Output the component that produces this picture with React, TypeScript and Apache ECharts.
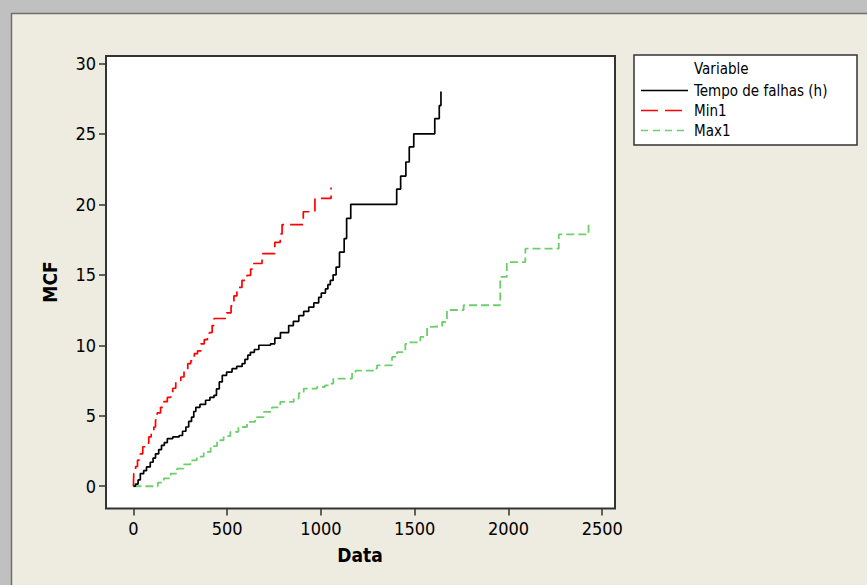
import React, { useEffect, useRef } from "react";
import * as echarts from "echarts";

// Mean cumulative function (MCF) step curves
const tempoX = [0, 11, 25, 37, 55, 70, 90, 105, 118, 135, 150, 165, 181, 210, 244, 262, 280, 295, 310, 322, 333, 355, 385, 408, 430, 443, 458, 474, 497, 526, 551, 580, 595, 610, 624, 645, 669, 731, 754, 784, 828, 853, 882, 908, 935, 962, 988, 1002, 1024, 1037, 1050, 1065, 1081, 1099, 1124, 1137, 1159, 1404, 1425, 1453, 1471, 1495, 1607, 1631, 1640];
const tempoY = [0, 0.15, 0.45, 0.9, 1.1, 1.37, 1.7, 2.0, 2.3, 2.6, 2.9, 3.1, 3.38, 3.5, 3.6, 3.9, 4.2, 4.6, 4.9, 5.3, 5.6, 5.8, 6.1, 6.3, 6.45, 6.9, 7.4, 7.87, 8.1, 8.34, 8.5, 8.7, 9.0, 9.3, 9.5, 9.7, 10.0, 10.1, 10.5, 10.9, 11.4, 11.7, 12.1, 12.4, 12.7, 13.0, 13.4, 13.7, 14.0, 14.3, 14.6, 15.0, 15.55, 16.6, 17.57, 19.0, 20.0, 21.08, 22.0, 23.0, 24.07, 25.0, 26.08, 27.0, 28.0];

const min1X = [0, 2, 12, 22, 37, 50, 64, 82, 95, 109, 118, 127, 145, 162, 181, 199, 210, 226, 253, 270, 290, 306, 325, 342, 360, 378, 395, 405, 420, 430, 497, 521, 536, 552, 579, 606, 625, 642, 686, 754, 783, 793, 906, 968, 1054];
const min1Y = [0, 0.9, 1.4, 1.85, 2.3, 2.8, 3.05, 3.5, 3.75, 4.2, 4.7, 5.2, 5.6, 6.0, 6.3, 6.6, 6.95, 7.5, 7.75, 8.2, 8.7, 8.9, 9.4, 9.6, 10.1, 10.4, 10.6, 10.9, 11.4, 11.9, 12.3, 12.8, 13.5, 14.1, 14.6, 14.96, 15.4, 15.8, 16.5, 17.3, 17.9, 18.56, 19.47, 20.42, 21.2];

const max1X = [0, 109, 130, 162, 199, 233, 268, 304, 338, 375, 412, 446, 481, 517, 560, 606, 649, 695, 739, 783, 855, 882, 908, 979, 1021, 1050, 1066, 1166, 1184, 1279, 1299, 1379, 1406, 1450, 1467, 1530, 1566, 1592, 1646, 1672, 1761, 1956, 1991, 2090, 2268, 2427];
const max1Y = [0, 0, 0.25, 0.55, 0.9, 1.25, 1.55, 1.84, 2.1, 2.43, 2.85, 3.26, 3.55, 3.85, 4.2, 4.56, 4.9, 5.27, 5.6, 5.98, 6.22, 6.6, 6.93, 7.04, 7.15, 7.28, 7.64, 8.1, 8.2, 8.35, 8.58, 9.17, 9.52, 10.1, 10.2, 10.6, 11.3, 11.35, 11.65, 12.5, 12.84, 14.85, 15.9, 16.85, 17.86, 18.6];

const xTicks = [0, 500, 1000, 1500, 2000, 2500];
const yTicks = [0, 5, 10, 15, 20, 25, 30];
const seriesNames = ["Tempo de falhas (h)", "Min1", "Max1"];
const legendTitle = "Variable";
const xTitle = "Data";
const yTitle = "MCF";

const FONT = '"DejaVu Sans Condensed", "DejaVu Sans", sans-serif';
const zip = (xs: number[], ys: number[]) => xs.map((x, i) => [x, ys[i]]);

const colors = ["#000000", "#ff0000", "#6ccf6c"];
const dashes: (string | number[])[] = ["solid", [13, 6], [8, 4]];

function buildOption(): echarts.EChartsOption {
  const data = [zip(tempoX, tempoY), zip(min1X, min1Y), zip(max1X, max1Y)];
  const legendRows = [90.5, 110.5, 130.5];
  const legendDash: (number[] | null)[] = [null, [17, 7], [7, 5]];
  const legendEls: any[] = [
    {
      type: "rect",
      shape: { x: 634, y: 55, width: 223, height: 90 },
      style: { fill: "#ffffff", stroke: "#333333", lineWidth: 1.5 },
    },
    {
      type: "text",
      x: 694,
      y: 69,
      style: { text: legendTitle, font: `15px ${FONT}`, fill: "#000", align: "left", verticalAlign: "middle", textAlign: "left", textVerticalAlign: "middle" },
    },
  ];
  seriesNames.forEach((name, i) => {
    legendEls.push({
      type: "line",
      shape: { x1: 641, y1: legendRows[i], x2: 688, y2: legendRows[i] },
      style: { stroke: colors[i], lineWidth: 1.7, lineDash: legendDash[i] || undefined },
    });
    legendEls.push({
      type: "text",
      x: 694,
      y: legendRows[i],
      style: { text: name, font: `15px ${FONT}`, fill: "#000", align: "left", verticalAlign: "middle", textAlign: "left", textVerticalAlign: "middle" },
    });
  });

  const tickLabel = (v: number) => String(v);

  return {
    animation: false,
    backgroundColor: "#eeebe0",
    grid: {
      left: 106,
      top: 56,
      width: 509,
      height: 452.5,
      show: true,
      backgroundColor: "#ffffff",
      borderColor: "#333333",
      borderWidth: 2,
    },
    xAxis: {
      type: "value",
      min: -146,
      max: 2568,
      splitLine: { show: false },
      axisLine: { show: false, onZero: false },
      axisTick: { show: true, length: 7, lineStyle: { color: "#333", width: 1.5 }, customValues: xTicks } as any,
      axisLabel: { customValues: xTicks, formatter: tickLabel, margin: 11, fontFamily: FONT, fontSize: 18, color: "#000" } as any,
    },
    yAxis: {
      type: "value",
      min: -1.58,
      max: 30.52,
      splitLine: { show: false },
      axisLine: { show: false, onZero: false },
      axisTick: { show: true, length: 7, lineStyle: { color: "#333", width: 1.5 }, customValues: yTicks } as any,
      axisLabel: { customValues: yTicks, formatter: tickLabel, margin: 10, fontFamily: FONT, fontSize: 18, color: "#000" } as any,
    },
    series: seriesNames.map((name, i) => ({
      name,
      type: "line",
      step: "end",
      symbol: "none",
      data: data[i],
      lineStyle: { color: colors[i], width: i === 2 ? 1.8 : 1.7, type: dashes[i] as any },
      z: 3 - i,
    })),
    graphic: [
      { type: "rect", shape: { x: 0, y: 0, width: 867, height: 13 }, style: { fill: "#c0c0c0" } },
      { type: "rect", shape: { x: 0, y: 0, width: 11, height: 585 }, style: { fill: "#c0c0c0" } },
      { type: "line", shape: { x1: 11, y1: 13.5, x2: 867, y2: 13.5 }, style: { stroke: "#6e6e6e", lineWidth: 1.5 } },
      { type: "line", shape: { x1: 11.5, y1: 13, x2: 11.5, y2: 585 }, style: { stroke: "#6e6e6e", lineWidth: 1.5 } },
      ...legendEls,
      {
        type: "text",
        x: 360,
        y: 555,
        style: { text: xTitle, font: `bold 19px ${FONT}`, fill: "#000", align: "center", verticalAlign: "middle", textAlign: "center", textVerticalAlign: "middle" },
      },
      {
        type: "text",
        x: 50,
        y: 282,
        rotation: Math.PI / 2,
        style: { text: yTitle, font: `bold 19px ${FONT}`, fill: "#000", align: "center", verticalAlign: "middle", textAlign: "center", textVerticalAlign: "middle" },
      },
    ],
  };
}

export default function App() {
  const ref = useRef<HTMLDivElement>(null);
  useEffect(() => {
    if (!ref.current) return;
    const chart = echarts.init(ref.current, undefined, { renderer: "svg" });
    chart.setOption(buildOption());
    return () => chart.dispose();
  }, []);
  return <div ref={ref} style={{ position: "fixed", left: 0, top: 0, width: 867, height: 585 }} />;
}
